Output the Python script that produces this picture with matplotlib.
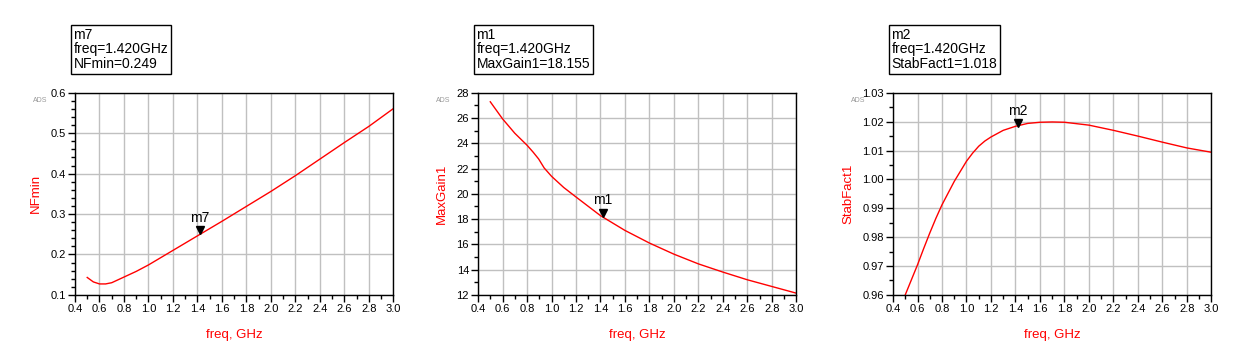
"""ADS-style three-panel sweep: NFmin, MaxGain1, StabFact1 vs freq with marker readouts."""
import matplotlib
matplotlib.use("Agg")
import matplotlib.pyplot as plt
from matplotlib.ticker import MultipleLocator, FormatStrFormatter
from matplotlib.transforms import offset_copy

RED = "#ff0000"
GRID = "#c0c0c0"
plt.rcParams.update({"font.family": ["Liberation Sans", "DejaVu Sans"]})

freq_nf = [0.50, 0.55, 0.60, 0.65, 0.70, 0.80, 0.90, 1.00, 1.20, 1.40, 1.60, 1.80, 2.00,
           2.20, 2.40, 2.60, 2.80, 3.00]
nfmin = [0.143, 0.132, 0.127, 0.127, 0.130, 0.144, 0.158, 0.174, 0.210, 0.246, 0.282, 0.319,
         0.356, 0.395, 0.436, 0.477, 0.517, 0.561]

freq_g = [0.50, 0.60, 0.70, 0.80, 0.85, 0.895, 0.94, 1.00, 1.10, 1.20, 1.40, 1.60, 1.80, 2.00,
          2.20, 2.40, 2.60, 2.80, 3.00]
maxgain = [27.29, 25.94, 24.80, 23.85, 23.30, 22.76, 22.05, 21.39, 20.50, 19.75, 18.27, 17.10,
           16.10, 15.22, 14.45, 13.80, 13.19, 12.66, 12.13]

freq_k = [0.50, 0.55, 0.60, 0.65, 0.70, 0.75, 0.80, 0.90, 1.00, 1.05, 1.10, 1.15, 1.20, 1.30,
          1.40, 1.50, 1.60, 1.70, 1.80, 2.00, 2.20, 2.40, 2.60, 2.80, 3.00]
stabfact = [0.9600, 0.9652, 0.9704, 0.9760, 0.9814, 0.9865, 0.9912, 0.9993, 1.0063, 1.0091,
            1.0115, 1.0133, 1.0147, 1.0170, 1.0184, 1.0194, 1.0198, 1.0199, 1.0198, 1.0188,
            1.0170, 1.0150, 1.0129, 1.0109, 1.0094]

panels = [
    dict(x=freq_nf, y=nfmin, name="NFmin", mk="m7", val=0.249, fmt="%.3f",
         ylim=(0.1, 0.6), major=0.1, minor=0.02, yfmt="%.1f", left=0.0597),
    dict(x=freq_g, y=maxgain, name="MaxGain1", mk="m1", val=18.155, fmt="%.3f",
         ylim=(12, 28), major=2, minor=1, yfmt="%d", left=0.3806),
    dict(x=freq_k, y=stabfact, name="StabFact1", mk="m2", val=1.018, fmt="%.3f",
         ylim=(0.96, 1.03), major=0.01, minor=0.005, yfmt="%.2f", left=0.711),
]
MARK_F = 1.42

fig = plt.figure(figsize=(12.56, 3.64), dpi=100)
for p in panels:
    ax = fig.add_axes([p["left"], 0.19, 0.2535, 0.555])
    ax.plot(p["x"], p["y"], color=RED, lw=1.0)
    ax.set_xlim(0.4, 3.0)
    ax.set_ylim(*p["ylim"])
    ax.xaxis.set_major_locator(MultipleLocator(0.2))
    ax.xaxis.set_minor_locator(MultipleLocator(0.1))
    ax.yaxis.set_major_locator(MultipleLocator(p["major"]))
    ax.yaxis.set_minor_locator(MultipleLocator(p["minor"]))
    ax.xaxis.set_major_formatter(FormatStrFormatter("%.1f"))
    ax.yaxis.set_major_formatter(FormatStrFormatter(p["yfmt"]))
    ax.grid(True, which="major", color=GRID, lw=1.0)
    ax.tick_params(which="both", direction="out", labelsize=8, width=1.0, pad=1.5)
    ax.tick_params(which="major", length=5)
    ax.tick_params(which="minor", length=3)
    for s in ax.spines.values():
        s.set_linewidth(1.0)
    ax.set_xlabel("freq, GHz", color=RED, fontsize=9.5, labelpad=11)
    ax.set_ylabel(p["name"], color=RED, fontsize=9.5, labelpad=6)
    # marker: triangle tip sits on the trace
    yv = p["val"]
    ax.plot([MARK_F], [yv], marker="v", color="black", ms=6, linestyle="none",
            transform=offset_copy(ax.transData, fig=fig, y=3, units="points"))
    ax.annotate(p["mk"], (MARK_F, yv), xytext=(0, 7), textcoords="offset points",
                ha="center", va="bottom", fontsize=10)
    ax.text(-0.11, 0.96, "ADS", transform=ax.transAxes, fontsize=5, color="#999999",
            ha="center", va="center")
    # readout box
    txt = f"{p['mk']}\nfreq=1.420GHz\n{p['name']}={p['fmt'] % yv}"
    ax.text(-0.005, 1.215, txt, transform=ax.transAxes, fontsize=10, ha="left", va="center",
            linespacing=1.05,
            bbox=dict(boxstyle="square,pad=0.2", fc="white", ec="black", lw=1.0))

fig.savefig("out.png", dpi=100)
